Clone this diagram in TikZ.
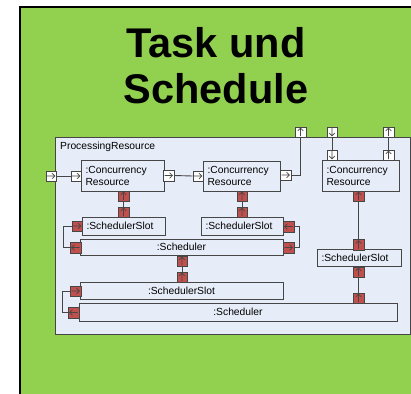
\documentclass[tikz,border=0pt]{standalone}
\usepackage{fontspec}
\setmainfont{Liberation Sans}
\definecolor{bggreen}{RGB}{146,208,80}
\definecolor{boxfill}{RGB}{231,237,248}
\definecolor{portred}{RGB}{192,80,77}
\definecolor{edgegrey}{RGB}{70,70,70}
\def\smallfont{\fontsize{10.3}{12}\selectfont}
\tikzset{
  obj/.style={draw=edgegrey, fill=boxfill, line width=.9pt, inner sep=0pt, font=\smallfont},
  lobj/.style={obj, align=left, inner xsep=4.5pt, text width=#1},
  port/.style={draw=edgegrey, line width=.5pt, minimum size=10.5pt, inner sep=0pt},
  wport/.style={port, fill=white, #1},
  rport/.style={port, fill=portred, #1},
  glyph/.style={line width=.6pt, shift={(path picture bounding box.center)}},
  toright/.style={path picture={\draw[glyph] (-4pt,0) -- (4pt,0) (1pt,2.8pt) -- (4pt,0) -- (1pt,-2.8pt);}},
  toleft/.style={path picture={\draw[glyph] (4pt,0) -- (-4pt,0) (-1pt,2.8pt) -- (-4pt,0) -- (-1pt,-2.8pt);}},
  toup/.style={path picture={\draw[glyph] (0,-4pt) -- (0,4pt) (-2.8pt,1pt) -- (0,4pt) -- (2.8pt,1pt);}},
  todown/.style={path picture={\draw[glyph] (0,4pt) -- (0,-4pt) (-2.8pt,-1pt) -- (0,-4pt) -- (2.8pt,-1pt);}},
  wire/.style={draw=edgegrey, line width=.9pt}
}

\begin{document}
\begin{tikzpicture}[x=1pt, y=-1pt]
    \useasboundingbox (0,0) rectangle (411,393);
    \clip (0,0) rectangle (411,393);
    \fill[white] (0,0) rectangle (411,393);
    \draw[fill=bggreen, line width=2pt] (20,7) rectangle (440,420);
    \node[anchor=north, inner sep=0pt, align=center, font=\fontsize{41.5}{46}\selectfont\bfseries] (title) at (216,27) {Task und\\Schedule};

    \draw[draw=edgegrey, fill=boxfill, line width=.8pt] (55,137) rectangle (410,334);
    \node[anchor=west, inner sep=0pt, font=\smallfont] (prlabel) at (60,147) {ProcessingResource};

    % objects
    \node[lobj=74pt, minimum height=31pt] (cr1) at (122.5,175.5) {:Concurrency\\Resource};
    \node[lobj=68pt, minimum height=30pt] (cr2) at (241.5,176) {:Concurrency\\Resource};
    \node[lobj=68pt, minimum height=31pt] (cr3) at (360.5,175.5) {:Concurrency\\Resource};
    \node[lobj=74pt, minimum height=18pt] (ss1) at (123.5,226) {:SchedulerSlot};
    \node[lobj=73pt, minimum height=18pt] (ss2) at (242,226) {:SchedulerSlot};
    \node[lobj=75pt, minimum height=17pt] (ss3) at (359,257.5) {:SchedulerSlot};
    \node[obj, minimum width=203pt, minimum height=16pt] (sch1) at (181.5,247) {:Scheduler};
    \node[obj, minimum width=203pt, minimum height=17pt] (ss4) at (181.5,290.5) {:SchedulerSlot};
    \node[obj, minimum width=318pt, minimum height=18pt] (sch2) at (238,312) {:Scheduler};

    % white ports
    \node[wport=toright] (pin) at (51,176) {};
    \node[wport=toright] (cr1w) at (76,176) {};
    \node[wport=toright] (cr1e) at (168.5,175.5) {};
    \node[wport=toright] (cr2w) at (198,176) {};
    \node[wport=toright] (cr2e) at (285.5,175) {};
    \node[wport=toup] (topa) at (300.5,132) {};
    \node[wport=todown] (topb) at (332,132) {};
    \node[wport=toup] (topc) at (388.5,132) {};
    \node[wport=todown] (cr3na) at (332,155) {};
    \node[wport=toup] (cr3nb) at (388.5,155) {};

    % red ports
    \node[rport=toup] (cr1s) at (123.5,196) {};
    \node[rport=toup] (ss1n) at (123.5,212) {};
    \node[rport=toup] (cr2s) at (242,196) {};
    \node[rport=toup] (ss2n) at (242,212) {};
    \node[rport=toright] (ss1w) at (77,226) {};
    \node[rport=toleft] (sch1w) at (75.5,247.5) {};
    \node[rport=toleft] (ss2e) at (288.5,226.5) {};
    \node[rport=toright] (sch1e) at (288.5,247.5) {};
    \node[rport=toup] (sch1s) at (182,261) {};
    \node[rport=toup] (ss4n) at (182,277) {};
    \node[rport=toright] (ss4w) at (75.5,291) {};
    \node[rport=toleft] (sch2w) at (73.5,312.5) {};
    \node[rport=toup] (cr3s) at (358.5,196) {};
    \node[rport=toup] (ss3n) at (358.5,244.5) {};
    \node[rport=toup] (ss3s) at (358.5,272) {};
    \node[rport=toup] (sch2n) at (358.5,298) {};

    % connectors
    \draw[wire] (pin.east) -- (cr1w.west);
    \draw[wire] (cr1e.east) -- (cr2w.west);
    \draw[wire] (cr2e.east) -| (topa.south);
    \draw[wire] (topb.south) -- (cr3na.north);
    \draw[wire] (topc.south) -- (cr3nb.north);
    \draw[wire] (cr1s.south) -- (ss1n.north);
    \draw[wire] (cr2s.south) -- (ss2n.north);
    \draw[wire] (ss1w.west) -- ++(-8.5,0) |- (sch1w.west);
    \draw[wire] (ss2e.east) -- ++(5.5,0) |- (sch1e.east);
    \draw[wire] (sch1s.south) -- (ss4n.north);
    \draw[wire] (ss4w.west) -- ++(-8,0) |- (sch2w.west);
    \draw[wire] (cr3s.south) -- (ss3n.north);
    \draw[wire] (ss3s.south) -- (sch2n.north);
\end{tikzpicture}
\end{document}
